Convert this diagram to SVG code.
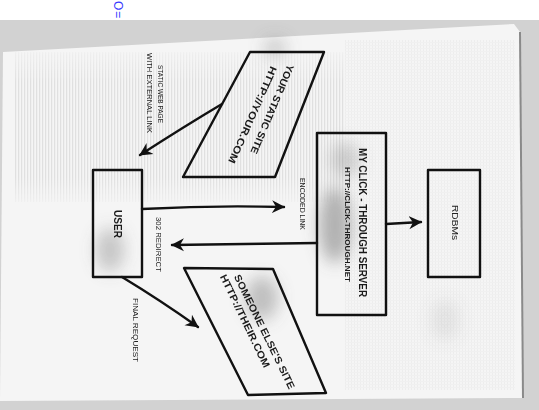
<svg xmlns="http://www.w3.org/2000/svg" width="539" height="410" viewBox="0 0 539 410">
  <style>
    .box { fill: none; stroke: #111; stroke-width: 2.4; stroke-linejoin: round; }
    .conn { fill: none; stroke: #111; stroke-width: 2.4; stroke-linecap: round; }
    .t { font-family: "Liberation Sans", Arial, sans-serif; font-weight: bold; fill: #1a1a1a; dominant-baseline: central; }
    .lbl { font-family: "Liberation Sans", Arial, sans-serif; fill: #222; dominant-baseline: central; }
  </style>
  <defs>
    <marker id="ah" markerUnits="userSpaceOnUse" markerWidth="16" markerHeight="14" refX="12" refY="7" orient="auto">
      <path d="M0,0.5 L13,7 L0,13.5 L4,7 Z" fill="#111"/>
    </marker>
    <pattern id="stripes" width="3" height="6" patternUnits="userSpaceOnUse">
      <rect x="0" y="0" width="1.2" height="6" fill="#c9c9c9"/>
    </pattern>
    <pattern id="grid" width="3" height="3" patternUnits="userSpaceOnUse">
      <rect x="0" y="0" width="1" height="3" fill="#e2e2e2"/>
      <rect x="0" y="0" width="3" height="1" fill="#e8e8e8"/>
    </pattern>
    <filter id="blur" x="-50%" y="-50%" width="200%" height="200%">
      <feGaussianBlur stdDeviation="8"/>
    </filter>
    <linearGradient id="fadeStripe" x1="0" y1="0" x2="0" y2="1">
      <stop offset="0" stop-color="#fff" stop-opacity="0.2"/>
      <stop offset="0.2" stop-color="#fff" stop-opacity="1"/>
      <stop offset="0.8" stop-color="#fff" stop-opacity="1"/>
      <stop offset="1" stop-color="#fff" stop-opacity="0"/>
    </linearGradient>
    <mask id="m1">
      <rect x="0" y="50" width="539" height="160" fill="url(#fadeStripe)"/>
    </mask>
  </defs>

  <!-- page background -->
  <rect x="0" y="0" width="539" height="410" fill="#ffffff"/>
  <rect x="0" y="20" width="539" height="390" fill="#d2d2d2"/>
  <text x="118" y="1" transform="rotate(90 118 1)" font-family="Liberation Sans, Arial, sans-serif" font-size="12" fill="#3a3aff" dominant-baseline="central" letter-spacing="1">O=</text>

  <!-- napkin -->
  <polygon points="3,52 514,24 520,32 523,398 0,401" fill="#f5f5f5"/>
  <line x1="520" y1="32" x2="523" y2="398" stroke="#8a8a8a" stroke-width="2"/>
  <g mask="url(#m1)">
    <rect x="15" y="52" width="330" height="150" fill="url(#stripes)" opacity="0.45"/>
  </g>
  <rect x="345" y="40" width="170" height="350" fill="url(#grid)" opacity="0.4"/>
  <!-- smudges -->
  <g filter="url(#blur)" fill="#6e6e6e">
    <ellipse cx="335" cy="225" rx="16" ry="38" opacity="0.5"/>
    <ellipse cx="345" cy="160" rx="14" ry="18" opacity="0.3"/>
    <ellipse cx="110" cy="250" rx="14" ry="22" opacity="0.35"/>
    <ellipse cx="262" cy="298" rx="16" ry="22" opacity="0.4"/>
    <ellipse cx="275" cy="48" rx="12" ry="10" opacity="0.3"/>
    <ellipse cx="445" cy="320" rx="14" ry="20" opacity="0.12"/>
  </g>

  <!-- connectors -->
  <g id="connectors">
    <path class="conn" d="M222,104 Q185,126 140,155" marker-end="url(#ah)"/>
    <path class="conn" d="M142,209 Q215,205 284,207" marker-end="url(#ah)"/>
    <path class="conn" d="M317,243 Q250,244 172,245" marker-end="url(#ah)"/>
    <path class="conn" d="M386,224 L421,222" marker-end="url(#ah)"/>
    <path class="conn" d="M122,277 Q160,300 198,327" marker-end="url(#ah)"/>
  </g>

  <!-- edge labels -->
  <g id="labels">
    <text class="lbl" font-size="6.5" transform="translate(160,65) rotate(90)" textLength="58" lengthAdjust="spacingAndGlyphs">STATIC WEB PAGE</text>
    <text class="lbl" font-size="6.5" transform="translate(149,53) rotate(90)" textLength="80" lengthAdjust="spacingAndGlyphs">WITH EXTERNAL LINK</text>
    <text class="lbl" font-size="6.5" transform="translate(158,217) rotate(90)" textLength="55" lengthAdjust="spacingAndGlyphs">302 REDIRECT</text>
    <text class="lbl" font-size="6.5" transform="translate(302,178) rotate(90)" textLength="52" lengthAdjust="spacingAndGlyphs">ENCODED LINK</text>
    <text class="lbl" font-size="6.5" transform="translate(135,298) rotate(90)" textLength="64" lengthAdjust="spacingAndGlyphs">FINAL REQUEST</text>
  </g>

  <!-- nodes -->
  <g id="your-static-site">
    <polygon class="box" points="250,52 324,52 275,177 183,177"/>
    <text class="t" font-size="10" transform="translate(291,65) rotate(113)" textLength="96" lengthAdjust="spacingAndGlyphs">YOUR STATIC SITE</text>
    <text class="t" font-size="10" transform="translate(274,67) rotate(114)" textLength="105" lengthAdjust="spacingAndGlyphs">HTTP://YOUR.COM</text>
  </g>

  <g id="user">
    <rect class="box" x="93" y="170" width="49" height="107"/>
    <text class="t" font-size="10" transform="translate(117,210) rotate(90)" textLength="28" lengthAdjust="spacingAndGlyphs">USER</text>
  </g>

  <g id="click-through-server">
    <rect class="box" x="317" y="133" width="69" height="182"/>
    <text class="t" font-size="10" transform="translate(362,148) rotate(90)" textLength="149" lengthAdjust="spacingAndGlyphs">MY CLICK - THROUGH SERVER</text>
    <text class="t" font-size="7" transform="translate(347,167) rotate(90)" textLength="115" lengthAdjust="spacingAndGlyphs">HTTP://CLICK-THROUGH.NET</text>
  </g>

  <g id="rdbms">
    <rect class="box" x="428" y="170" width="52" height="107"/>
    <text class="lbl" font-size="9" transform="translate(455,205) rotate(90)" textLength="35" lengthAdjust="spacingAndGlyphs">RDBMs</text>
  </g>

  <g id="someone-elses-site">
    <polygon class="box" points="184,268 273,269 326,393 248,395"/>
    <text class="t" font-size="10" transform="translate(237,275) rotate(64)" textLength="126" lengthAdjust="spacingAndGlyphs">SOMEONE ELSE'S SITE</text>
    <text class="t" font-size="10" transform="translate(223,275) rotate(64.4)" textLength="102" lengthAdjust="spacingAndGlyphs">HTTP://THEIR.COM</text>
  </g>
</svg>
